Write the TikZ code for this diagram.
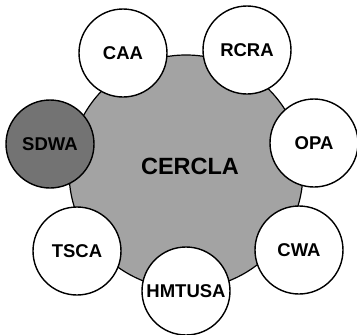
\documentclass[tikz,border=0pt]{standalone}
\usepackage{fontspec}
\setmainfont{Liberation Sans}
\begin{document}
\begin{tikzpicture}[x=1pt,y=-1pt,
  sat/.style={circle,draw=black,line width=1.4pt,fill=white,minimum size=88pt,inner sep=0pt,font=\bfseries\fontsize{18.5}{18.5}\selectfont},
  hub/.style={circle,draw=black,line width=1.2pt,fill=black!36,minimum size=234pt,inner sep=0pt}]
\useasboundingbox (0,0) rectangle (357,335);
\node[hub] (cercla) at (186,172) {};
\node[font=\bfseries\fontsize{23.5}{23.5}\selectfont] (lbl) at (190,166) {CERCLA};
\node[sat] (caa) at (123,53) {CAA};
\node[sat] (rcra) at (247,50) {RCRA};
\node[sat] (opa) at (314,143) {OPA};
\node[sat,fill=black!55] (sdwa) at (50,144) {SDWA};
\node[sat] (tsca) at (77,251) {TSCA};
\node[sat] (cwa) at (299,250) {CWA};
\node[sat] (hmtusa) at (186,291) {HMTUSA};
\end{tikzpicture}
\end{document}
